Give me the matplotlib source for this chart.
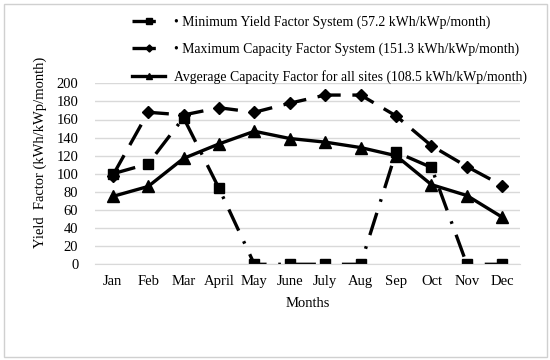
import matplotlib.pyplot as plt
from matplotlib.patches import Rectangle

months = ["Jan", "Feb", "Mar", "April", "May", "June", "July", "Aug",
          "Sep", "Oct", "Nov", "Dec"]
min_yield = [100, 111, 162, 84, 0, 0, 0, 0, 124, 107, 0, 0]
max_capacity = [98, 168, 165, 173, 168, 178, 187, 187, 164, 131, 108, 87]
avg_capacity = [75, 86, 117, 133, 147, 139, 135, 129, 120, 88, 76, 52]

labels = [
    "\u2022 Minimum Yield Factor System (57.2 kWh/kWp/month)",
    "\u2022 Maximum Capacity Factor System (151.3 kWh/kWp/month)",
    "Avgerage Capacity Factor for all sites (108.5 kWh/kWp/month)",
]

plt.rcParams["font.family"] = ["Liberation Serif", "DejaVu Serif"]
plt.rcParams["font.size"] = 10.5

fig = plt.figure(figsize=(5.5, 3.6), dpi=100)
ax = fig.add_axes([95 / 550, 1 - 264.3 / 360, 425 / 550, 181 / 360])

x = range(len(months))
ax.plot(x, min_yield, color="black", lw=2.4, ls=(0, (7, 3.5, 0.8, 3.5)),
        marker="s", ms=6.5, label=labels[0])
ax.plot(x, max_capacity, color="black", lw=2.4, ls=(0, (7, 3.5)),
        marker="D", ms=6, label=labels[1])
ax.plot(x, avg_capacity, color="black", lw=2.4, ls="-",
        marker="^", ms=8, label=labels[2])

ax.set_xlim(-0.5, len(months) - 0.5)
ax.set_ylim(0, 200)
ax.set_yticks(range(0, 201, 20))
ax.set_xticks(list(x))
ax.set_xticklabels(months)
ax.yaxis.grid(True, color="#d9d9d9", lw=1)
ax.set_axisbelow(True)
for side in ["top", "right", "left"]:
    ax.spines[side].set_visible(False)
ax.spines["bottom"].set_color("#d9d9d9")
ax.tick_params(length=0)
ax.tick_params(axis="y", pad=12)
ax.tick_params(axis="x", pad=8)

ax.set_xlabel("Months", labelpad=6)
ax.set_ylabel("Yield  Factor (kWh/kWp/month)")
ax.yaxis.set_label_coords(-0.112, 0.62)

fig.legend(loc="upper left", bbox_to_anchor=(120 / 550, 1 - 3 / 360),
           frameon=False, handlelength=2.4, handletextpad=0.6,
           labelspacing=1.0, markerscale=0.6, fontsize=9.9)

fig.patches.append(Rectangle((3.5 / 550, 3.5 / 360), 543 / 550, 353 / 360,
                             transform=fig.transFigure, fill=False,
                             ec="#d0d0d0", lw=1))

fig.savefig("out.png", dpi=100)
